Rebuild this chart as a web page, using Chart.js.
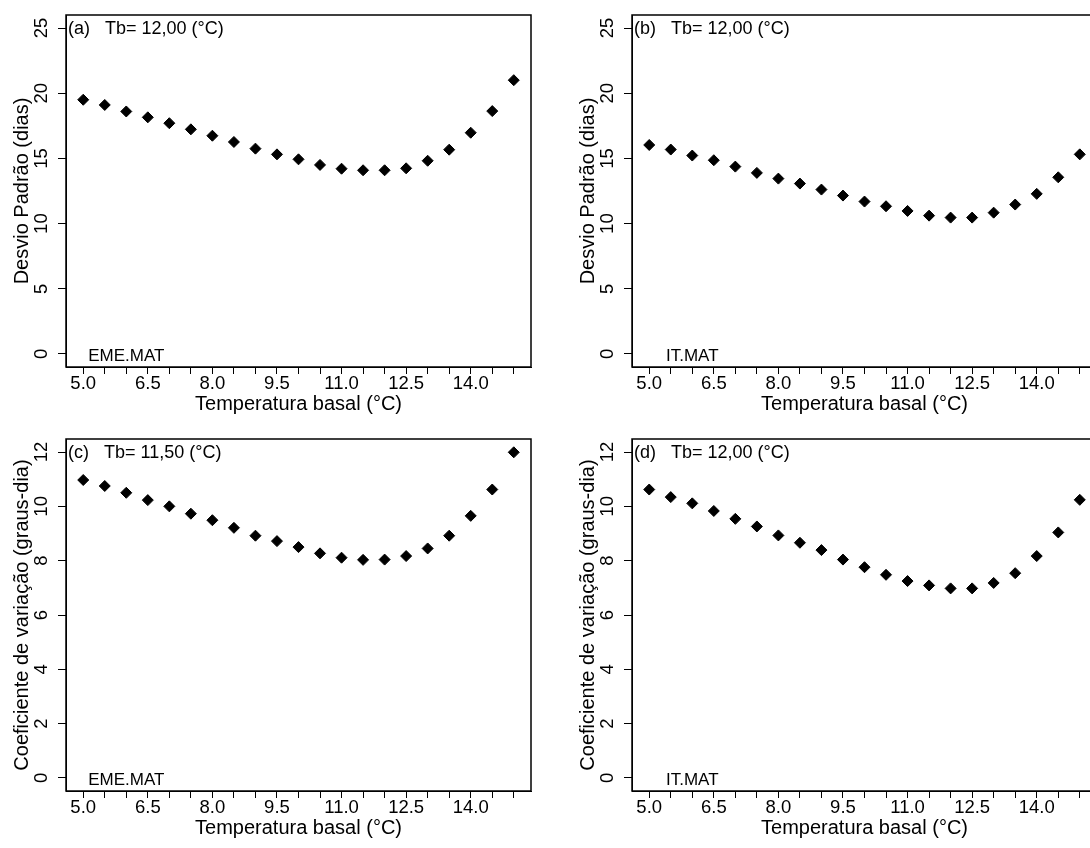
<!DOCTYPE html>
<html>
<head>
<meta charset="utf-8">
<script src="https://cdn.jsdelivr.net/npm/chart.js@4.4.1/dist/chart.umd.min.js"></script>
<style>
  html, body { margin: 0; padding: 0; background: #fff; }
  body { width: 1090px; height: 848px; overflow: hidden; position: relative; }
  canvas { position: absolute; }
</style>
</head>
<body>
<canvas id="pa" width="566" height="424" style="left:0;top:0"></canvas>
<canvas id="pb" width="566" height="424" style="left:566px;top:0"></canvas>
<canvas id="pc" width="566" height="424" style="left:0;top:424px"></canvas>
<canvas id="pd" width="566" height="424" style="left:566px;top:424px"></canvas>
<script>
// basal temperature tested (°C)
var basalTemp = [5.0, 5.5, 6.0, 6.5, 7.0, 7.5, 8.0, 8.5, 9.0, 9.5, 10.0, 10.5, 11.0, 11.5, 12.0, 12.5, 13.0, 13.5, 14.0, 14.5, 15.0];
var xTickLabels = ['5.0', '6.5', '8.0', '9.5', '11.0', '12.5', '14.0'];

// desvio padrao (dias)
var sdEmeMat = [19.5, 19.1, 18.6, 18.15, 17.7, 17.23, 16.74, 16.26, 15.75, 15.31, 14.93, 14.5, 14.21, 14.09, 14.09, 14.24, 14.82, 15.67, 16.97, 18.63, 21.0];
var sdItMat = [16.03, 15.68, 15.22, 14.86, 14.37, 13.89, 13.45, 13.07, 12.61, 12.15, 11.69, 11.33, 10.97, 10.61, 10.46, 10.46, 10.84, 11.46, 12.28, 13.55, 15.31];

// coeficiente de variacao (graus-dia)
var cvEmeMat = [10.97, 10.75, 10.5, 10.23, 10.0, 9.73, 9.49, 9.21, 8.92, 8.72, 8.5, 8.27, 8.11, 8.03, 8.04, 8.17, 8.45, 8.92, 9.65, 10.62, 11.99];
var cvItMat = [10.62, 10.34, 10.11, 9.83, 9.54, 9.26, 8.93, 8.66, 8.39, 8.04, 7.76, 7.48, 7.25, 7.09, 6.98, 6.98, 7.18, 7.54, 8.17, 9.04, 10.24];

var sdTicks = [0, 5, 10, 15, 20, 25];
var cvTicks = [0, 2, 4, 6, 8, 10, 12];

var FONT = "'Liberation Sans', Arial, sans-serif";
Chart.defaults.font.family = FONT;
Chart.defaults.color = '#000';

// box, rotated y labels and the two text notes (R style)
var rStyle = {
  id: 'rStyle',
  afterDraw: function(chart) {
    var ctx = chart.ctx, a = chart.chartArea;
    var o = chart.options.plugins.rStyle;
    var ys = chart.scales.y, xs = chart.scales.x;
    ctx.save();
    ctx.strokeStyle = '#000';
    ctx.lineWidth = 1.5;
    ctx.strokeRect(a.left, a.top, a.right - a.left, a.bottom - a.top);

    ctx.fillStyle = '#000';
    ctx.font = '18.5px ' + FONT;
    o.yTicks.forEach(function(v) {
      ctx.save();
      ctx.translate(a.left - 19, ys.getPixelForValue(v));
      ctx.rotate(-Math.PI / 2);
      ctx.textAlign = 'center';
      ctx.textBaseline = 'alphabetic';
      ctx.fillText(String(v), 0, 0);
      ctx.restore();
    });

    ctx.font = '18px ' + FONT;
    ctx.textAlign = 'left';
    ctx.textBaseline = 'middle';
    ctx.fillText(o.tag, a.left + 2, ys.getPixelForValue(o.yTicks[o.yTicks.length - 1]) + 1);
    ctx.font = '17px ' + FONT;
    ctx.textAlign = 'center';
    ctx.fillText(o.group, xs.getPixelForValue(6.0), ys.getPixelForValue(0) + 2);
    ctx.restore();
  }
};

function makePanel(id, values, yTicks, yMin, yMax, yTitle, tag, group) {
  var pts = basalTemp.map(function(t, i) { return { x: t, y: values[i] }; });
  return new Chart(document.getElementById(id), {
    type: 'scatter',
    data: {
      datasets: [{
        data: pts,
        pointStyle: 'rectRot',
        pointRadius: 5.5,
        pointHoverRadius: 5.5,
        backgroundColor: '#000',
        borderColor: '#000',
        borderWidth: 1
      }]
    },
    options: {
      responsive: false,
      animation: false,
      events: [],
      layout: { padding: { top: 15, right: 35, left: 0, bottom: 0 } },
      scales: {
        x: {
          type: 'linear',
          min: 4.6,
          max: 15.4,
          afterBuildTicks: function(s) { s.ticks = basalTemp.map(function(v) { return { value: v }; }); },
          afterFit: function(s) { s.height = 57; },
          ticks: {
            autoSkip: false,
            maxRotation: 0,
            padding: 1,
            font: { size: 18.5, lineHeight: 1 },
            color: '#000',
            callback: function(v) {
              var s = Number(v).toFixed(1);
              return xTickLabels.indexOf(s) >= 0 ? s : '';
            }
          },
          grid: { drawOnChartArea: false, drawTicks: true, tickLength: 7, color: '#000', lineWidth: 1 },
          border: { display: true, color: '#000', width: 1 },
          title: { display: true, text: 'Temperatura basal (°C)', font: { size: 20, lineHeight: 1.2 }, color: '#000', padding: { top: 0, bottom: 8 } }
        },
        y: {
          type: 'linear',
          min: yMin,
          max: yMax,
          afterBuildTicks: function(s) { s.ticks = yTicks.map(function(v) { return { value: v }; }); },
          afterFit: function(s) { s.width = 66; },
          ticks: { display: false },
          grid: { drawOnChartArea: false, drawTicks: true, tickLength: 8, color: '#000', lineWidth: 1 },
          border: { display: true, color: '#000', width: 1 },
          title: { display: true, text: yTitle, font: { size: 20, lineHeight: 1.2 }, color: '#000', padding: { top: 10, bottom: 0 } }
        }
      },
      plugins: {
        legend: { display: false },
        tooltip: { enabled: false },
        rStyle: { yTicks: yTicks, tag: tag, group: group }
      }
    },
    plugins: [rStyle]
  });
}

makePanel('pa', sdEmeMat, sdTicks, -1, 26, 'Desvio Padrão (dias)', '(a)   Tb= 12,00 (°C)', 'EME.MAT');
makePanel('pb', sdItMat, sdTicks, -1, 26, 'Desvio Padrão (dias)', '(b)   Tb= 12,00 (°C)', 'IT.MAT');
makePanel('pc', cvEmeMat, cvTicks, -0.48, 12.48, 'Coeficiente de variação (graus-dia)', '(c)   Tb= 11,50 (°C)', 'EME.MAT');
makePanel('pd', cvItMat, cvTicks, -0.48, 12.48, 'Coeficiente de variação (graus-dia)', '(d)   Tb= 12,00 (°C)', 'IT.MAT');
</script>
</body>
</html>
